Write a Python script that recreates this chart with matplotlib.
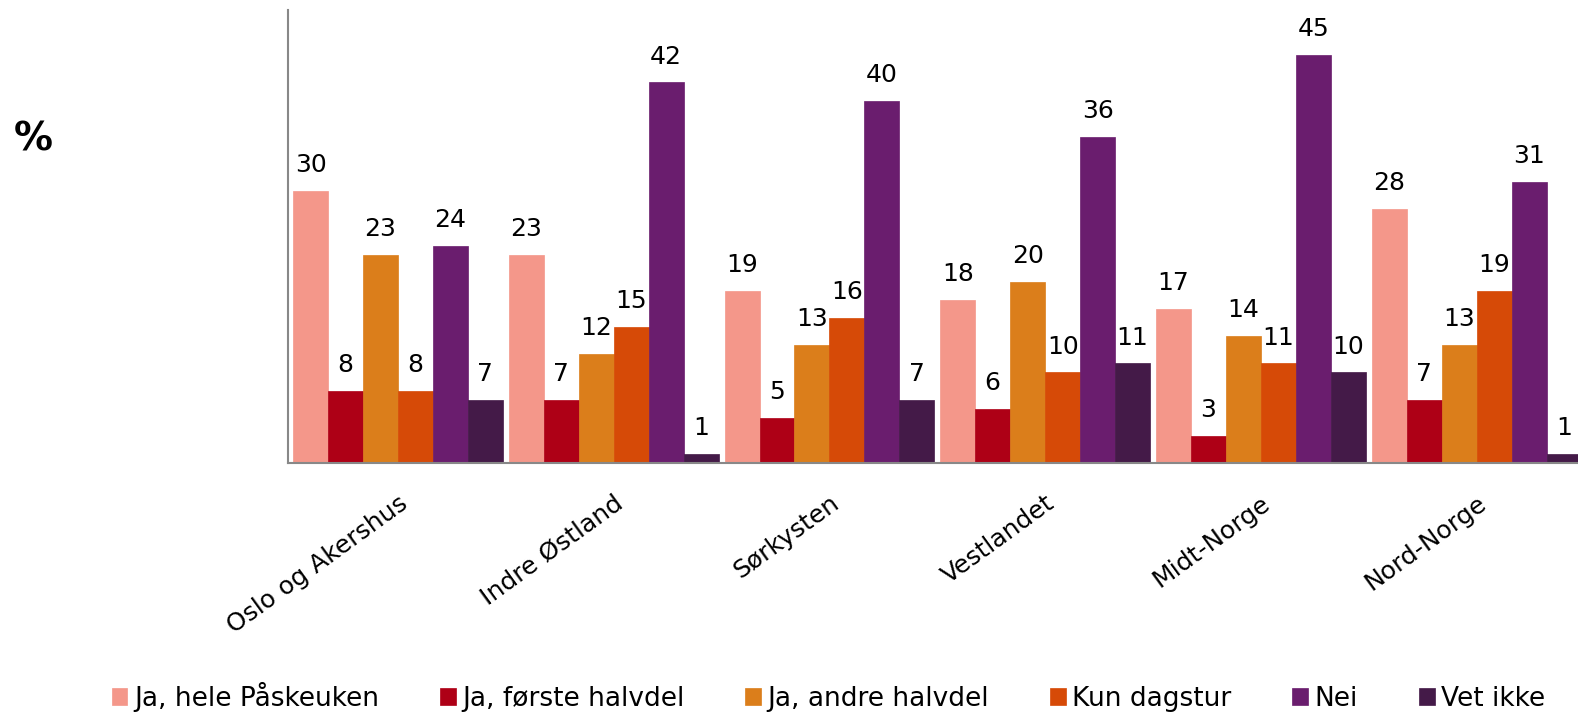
import numpy as np
import matplotlib
matplotlib.use("Agg")
import matplotlib.pyplot as plt

regions = ["Oslo og Akershus", "Indre Østland", "Sørkysten", "Vestlandet", "Midt-Norge", "Nord-Norge"]
series = ["Ja, hele Påskeuken", "Ja, første halvdel", "Ja, andre halvdel", "Kun dagstur", "Nei", "Vet ikke"]

hele = [30, 23, 19, 18, 17, 28]
forste = [8, 7, 5, 6, 3, 7]
andre = [23, 12, 13, 20, 14, 13]
dagstur = [8, 15, 16, 10, 11, 19]
nei = [24, 42, 40, 36, 45, 31]
vet_ikke = [7, 1, 7, 11, 10, 1]

values = [hele, forste, andre, dagstur, nei, vet_ikke]
colors = ["#F4978A", "#AE0016", "#DB7E1B", "#D64A07", "#6A1D6E", "#441A48"]

plt.rcParams['font.family'] = ['DejaVu Sans']

fig = plt.figure(figsize=(15.78, 7.13), dpi=100)
ax = fig.add_axes([0.1825, 0.3505, 0.8175, 0.6355])

x = np.arange(len(regions))
w = 0.162
for k, (vals, name, col) in enumerate(zip(values, series, colors)):
    pos = x - 3 * w + w / 2 + k * w
    bars = ax.bar(pos, vals, w, color=col, label=name, edgecolor=col, linewidth=0.5)
    for b, v in zip(bars, vals):
        ax.annotate(str(v), (b.get_x() + b.get_width() / 2, b.get_height()),
                    xytext=(0, 10), textcoords="offset points",
                    ha="center", va="bottom", fontsize=18)

ax.set_xlim(-0.51, 5.47)
ax.set_ylim(0, 50)
ax.set_yticks([])
ax.set_xticks(x)
ax.set_xticklabels(regions, rotation=36, ha="right", rotation_mode="anchor", fontsize=18)
ax.tick_params(axis="x", length=0, pad=20)
for s in ["top", "right"]:
    ax.spines[s].set_visible(False)
for s in ["left", "bottom"]:
    ax.spines[s].set_color("#888888")
    ax.spines[s].set_linewidth(1.5)

fig.text(0.009, 0.804, "%", fontsize=28, fontweight="bold", ha="left", va="center")

fig.legend(loc="lower center", bbox_to_anchor=(0.525, -0.032), ncol=6, frameon=False,
           fontsize=19, handlelength=0.6, handleheight=0.6, handletextpad=0.25,
           columnspacing=2.3)

fig.savefig("out.png", dpi=100)
